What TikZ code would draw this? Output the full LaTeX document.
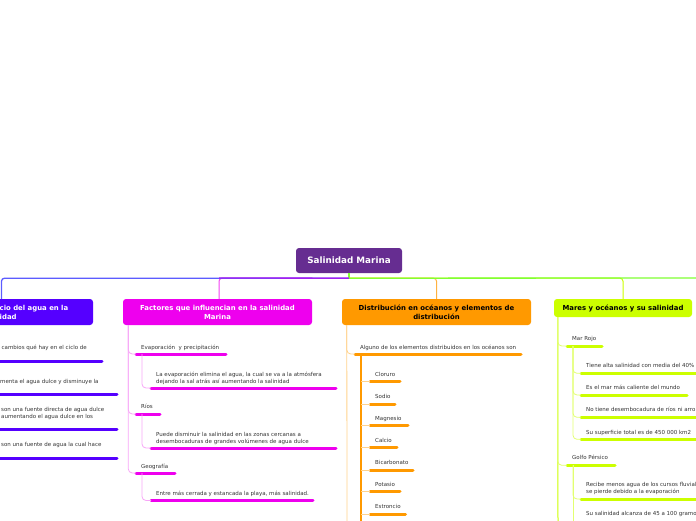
\documentclass[tikz,border=0pt]{standalone}
\usepackage{fontspec}
\setmainfont{DejaVu Sans}
\usetikzlibrary{calc}
\definecolor{rootc}{HTML}{662D91}
\definecolor{cB}{HTML}{5500FF}
\definecolor{cM}{HTML}{EE00EE}
\definecolor{cO}{HTML}{FF9900}
\definecolor{cY}{HTML}{CCFF00}
\definecolor{lM}{HTML}{F7A6F7}
\definecolor{lO}{HTML}{FFD28C}
\definecolor{lY}{HTML}{E2FF70}
\definecolor{topB}{HTML}{5C5CFF}
\definecolor{topP}{HTML}{A020F0}
\definecolor{topG}{HTML}{80FF33}
\definecolor{txt}{HTML}{333333}
\tikzset{
  leaf/.style={font=\fontsize{5.5}{6.7}\selectfont, text=txt, inner sep=0pt, anchor=base west, align=left},
  box/.style={rounded corners=3pt, minimum height=26pt, inner sep=0pt, font=\bfseries\fontsize{6.9}{9}\selectfont, align=center},
  root/.style={rounded corners=3pt, fill=rootc, text=white, minimum width=106pt, minimum height=25pt, inner sep=0pt, font=\bfseries\fontsize{8.8}{9}\selectfont},
  bar/.style={line width=3pt, line cap=round},
  thinl/.style={line width=0.8pt, rounded corners=4pt},
  topl/.style={line width=1.3pt},
  dropl/.style={line width=1pt, rounded corners=3pt}
}
\begin{document}
\begin{tikzpicture}[x=1pt,y=-1pt]
\useasboundingbox (0,0) rectangle (696,520);

% root and main branches
\node[root] (root) at (349,260.5) {Salinidad Marina};
\node[box, fill=cB, minimum width=190pt] (b1) at (-2,312) {};
\node[font=\bfseries\fontsize{6.9}{9}\selectfont, text=white, align=left, inner sep=0pt, anchor=west] (b1t) at (-0.5,312.5) {cio del agua en la\\idad};
\node[box, fill=cM, text=white, minimum width=189pt] (b2) at (217.5,312) {Factores que influencian en la salinidad\\Marina};
\node[box, fill=cO, text=black, minimum width=189pt] (b3) at (436.5,312) {Distribución en océanos y elementos de\\distribución};
\node[box, fill=cY, text=black, minimum width=138pt, minimum height=18pt] (b4) at (623,308) {Mares y océanos y su salinidad};

% connectors from root
\draw[topl, topG] (root.south) -- ++(0,5) coordinate (hub);
\draw[dropl, cM!75] (hub) -| ([xshift=1.5pt]b2.north);
\draw[dropl, cO!75] (hub) -| (b3.north);
\draw[dropl, cY] (hub) -| (b4.north);
\draw[topl, topB, rounded corners=3pt] (hub) -| ([xshift=3.5pt]b1.north);
\draw[topl, topP] (hub) -- (219,278);
\draw[topl, topG] (hub) -- (700,278);

% column 1
\node[leaf] (a1) at (1.5,349.8) {cambios qué hay en el ciclo de};
\draw[bar, cB] (-5,361) -- (102,361);
\node[leaf] (a2) at (0,383.8) {menta el agua dulce y disminuye la};
\draw[bar, cB] (-5,394.5) -- (117,394.5);
\node[leaf] (a3) at (1,418.2) {son una fuente directa de agua dulce\\ aumentando el agua dulce en los};
\draw[bar, cB] (-5,429.5) -- (117,429.5);
\node[leaf] (a4) at (1,446.8) {son una fuente de agua la cual hace};
\draw[bar, cB] (-5,458) -- (117,458);

% column 2
\coordinate (t2) at ([xshift=5.5pt]b2.south west);
\node[leaf] (m1) at (141,349.5) {Evaporación \ y precipitación};
\draw[bar, cM] (136,354) coordinate (m1s) -- (226,354) coordinate (m1e);
\draw[thinl, lM] (t2) |- (m1s);
\coordinate (m1t) at (142,354);
\node[leaf] (m11) at (156,383.3) {La evaporación elimina el agua, la cual se va a la atmósfera\\dejando la sal atrás así aumentando la salinidad};
\draw[bar, cM] (151,388) coordinate (m11s) -- (336,388);
\draw[thinl, lM] (m1t) |- (m11s);

\node[leaf] (m2) at (141,408.5) {Ríos};
\draw[bar, cM] (136,414) coordinate (m2s) -- (160,414);
\draw[thinl, lM] (t2) |- (m2s);
\coordinate (m2t) at (142,414);
\node[leaf] (m21) at (156,443) {Puede disminuir la salinidad en las zonas cercanas a\\desembocaduras de grandes volúmenes de agua dulce};
\draw[bar, cM] (151,448) coordinate (m21s) -- (336,448);
\draw[thinl, lM] (m2t) |- (m21s);

\node[leaf] (m3) at (141,468.5) {Geografía};
\draw[bar, cM] (136,473) coordinate (m3s) -- (175,473);
\draw[thinl, lM] (t2) |- (m3s);
\coordinate (m3t) at (142,473);
\node[leaf] (m31) at (156,495.8) {Entre más cerrada y estancada la playa, más salinidad.};
\draw[bar, cM] (151,500.5) coordinate (m31s) -- (313,500.5);
\draw[thinl, lM] (m3t) |- (m31s);

% column 3
\coordinate (t3) at ([xshift=5pt]b3.south west);
\draw[thinl, lO] (t3) -- (347,525);
\node[leaf] (o1) at (360,349.5) {Alguno de los elementos distribuidos en los océanos son};
\draw[bar, cO] (355,354) coordinate (o1s) -- (521,354);
\draw[thinl, lO] (t3) |- (o1s);
\coordinate (o1t) at (361,354);
\draw[line width=2pt, cO] (o1t) -- (361,525);
\foreach \name/\ty/\by/\bx [count=\i] in {Cloruro/376.8/381.7/400, Sodio/398.5/404/395, Magnesio/420.8/425.3/408, Calcio/442.8/447.7/397, Bicarbonato/464.5/470/413, Potasio/486.8/491.7/400, Estroncio/508.5/514/405.5}{
  \node[leaf] (e\i) at (375,\ty) {\name};
  \draw[bar, cO] (370,\by) coordinate (e\i s) -- (\bx,\by);
  \draw[line width=1pt, lO] (o1t |- e\i s) -- (e\i s);
}

% column 4
\coordinate (t4) at ([xshift=4pt]b4.south west);
\draw[line width=1pt, cY] (t4) -- (558,525);
\node[leaf] (y1) at (572,340.8) {Mar Rojo};
\draw[bar, cY] (567,346) coordinate (y1s) -- (602,346);
\draw[thinl, lY] (t4) |- (y1s);
\coordinate (y1t) at (573,346);
\node[leaf] (y11) at (586,367.8) {Tiene alta salinidad con media del 40\%};
\draw[bar, cY] (581,373.3) coordinate (y11s) -- (700,373.3);
\node[leaf] (y12) at (586,389.5) {Es el mar más caliente del mundo};
\draw[bar, cY] (581,395) coordinate (y12s) -- (687,395);
\node[leaf] (y13) at (586,411.8) {No tiene desembocadura de ríos ni arro};
\draw[bar, cY] (581,417.3) coordinate (y13s) -- (700,417.3);
\node[leaf] (y14) at (586,434.1) {Su superficie total es de 450 000 km2};
\draw[bar, cY] (581,439.3) coordinate (y14s) -- (700,439.3);
\draw[thinl, lY] (y1t) |- (y11s);
\draw[thinl, lY] (y1t) |- (y12s);
\draw[thinl, lY] (y1t) |- (y13s);
\draw[thinl, lY] (y1t) |- (y14s);

\node[leaf] (y2) at (572,459.5) {Golfo Pérsico};
\draw[bar, cY] (567,465.3) coordinate (y2s) -- (615,465.3);
\draw[thinl, lY] (t4) |- (y2s);
\coordinate (y2t) at (573,465.3);
\node[leaf] (y21) at (586,493.5) {Recibe menos agua de los cursos fluvial\\se pierde debido a la evaporación};
\draw[bar, cY] (581,499) coordinate (y21s) -- (700,499);
\node[leaf] (y22) at (586,515.1) {Su salinidad alcanza de 45 a 100 gramo};
\draw[thinl, lY] (y2t) |- (y21s);
\draw[thinl, lY] (y2t) -- (573,525);
\end{tikzpicture}
\end{document}
